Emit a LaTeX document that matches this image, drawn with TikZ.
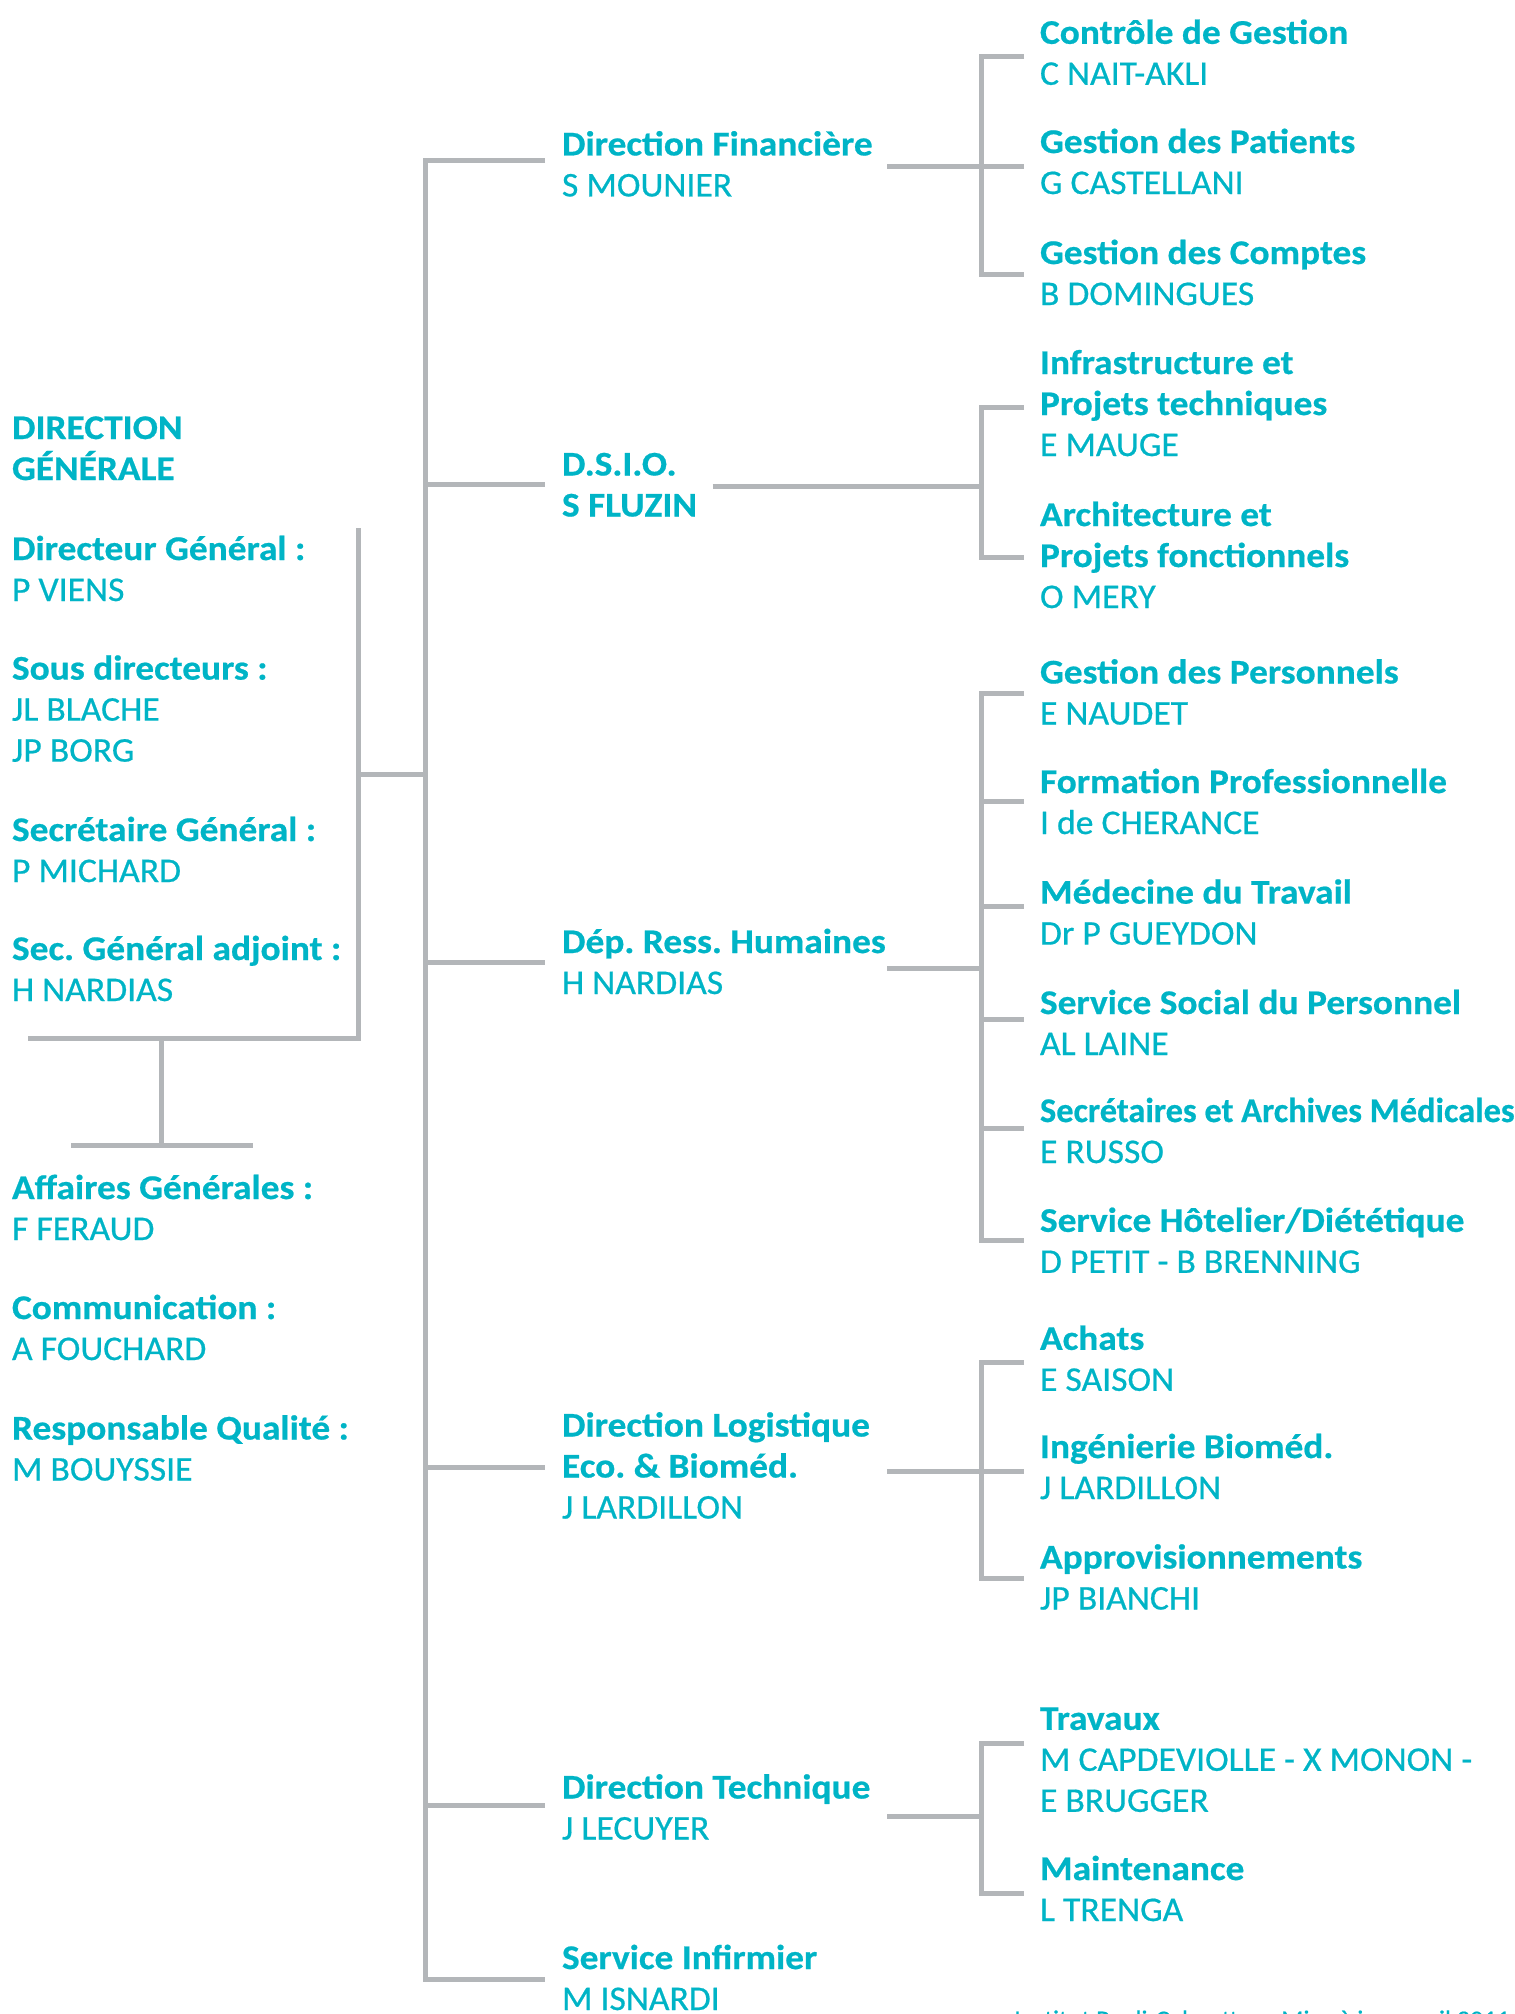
\documentclass[tikz,border=0pt]{standalone}
\usepackage{fontspec}
\setmainfont{Carlito}[UprightFeatures={FakeStretch=1.03,FakeBold=0.6},
                      BoldFeatures={FakeStretch=1.08,FakeBold=0.6}]
\definecolor{ipc}{HTML}{00B4C6}
\definecolor{lgray}{HTML}{B3B6B9}
\begin{document}
\frenchspacing
\begin{tikzpicture}[x=1pt,y=-1pt,
  lbl/.style={anchor=base west, inner sep=0pt, outer sep=0pt, align=left, text=ipc,
              font=\fontsize{34.6}{41}\selectfont},
  conn/.style={draw=lgray, line width=5pt, line join=miter, line cap=butt}]
\useasboundingbox (0,0) rectangle (1515,2014);
\clip (0,0) rectangle (1515,2014);

% (node anchors are at the baseline of each block's last line)
% ---------------- left column ----------------
\node[lbl] (dg)   at (12,480)    {\bfseries DIRECTION\\\bfseries GÉNÉRALE};
\node[lbl] (dgen) at (12,601)    {\bfseries Directeur Général :\\P VIENS};
\node[lbl] (sdir) at (12,761.6)  {\bfseries Sous directeurs :\\JL BLACHE\\JP BORG};
\node[lbl] (sg)   at (12,882)    {\bfseries Secrétaire Général :\\P MICHARD};
\node[lbl] (sga)  at (12,1001)   {\bfseries Sec. Général adjoint :\\H NARDIAS};
\node[lbl] (ag)   at (12,1240)   {\bfseries Affaires Générales :\\F FERAUD};
\node[lbl] (com)  at (12,1360)   {\bfseries Communication :\\A FOUCHARD};
\node[lbl] (rq)   at (12,1480.5) {\bfseries Responsable Qualité :\\M BOUYSSIE};

% ---------------- middle column ----------------
\node[lbl] (df)   at (562,196.4)  {\bfseries Direction Financière\\S MOUNIER};
\node[lbl] (dsio) at (562,516.5)  {\bfseries D.S.I.O.\\\bfseries S FLUZIN};
\node[lbl] (drh)  at (562,994)    {\bfseries Dép. Ress. Humaines\\H NARDIAS};
\node[lbl] (dlog) at (562,1518.5) {\bfseries Direction Logistique\\\bfseries Eco. \& Bioméd.\\J LARDILLON};
\node[lbl] (dtec) at (562,1839.5) {\bfseries Direction Technique\\J LECUYER};
\node[lbl] (sinf) at (562,2010)   {\bfseries Service Infirmier\\M ISNARDI};

% ---------------- right column ----------------
\node[lbl] (cg)   at (1040,84.8)   {\bfseries Contrôle de Gestion\\C NAIT-AKLI};
\node[lbl] (gp)   at (1040,194)    {\bfseries Gestion des Patients\\G CASTELLANI};
\node[lbl] (gc)   at (1040,305)    {\bfseries Gestion des Comptes\\B DOMINGUES};
\node[lbl] (ipt)  at (1040,456)    {\bfseries Infrastructure et\\\bfseries Projets techniques\\E MAUGE};
\node[lbl] (apf)  at (1040,608)    {\bfseries Architecture et\\\bfseries Projets fonctionnels\\O MERY};
\node[lbl] (gpe)  at (1040,724.5)  {\bfseries Gestion des Personnels\\E NAUDET};
\node[lbl] (fp)   at (1040,834)    {\bfseries Formation Professionnelle\\I de CHERANCE};
\node[lbl] (mt)   at (1040,944.6)  {\bfseries Médecine du Travail\\Dr P GUEYDON};
\node[lbl] (ssp)  at (1040,1055)   {\bfseries Service Social du Personnel\\AL LAINE};
\node[lbl] (sam)  at (1040,1163)   {\scalebox{0.92}[1]{\bfseries Secrétaires et Archives Médicales}\\E RUSSO};
\node[lbl] (shd)  at (1040,1272.8) {\bfseries Service Hôtelier/Diététique\\D PETIT - B BRENNING};
\node[lbl] (ach)  at (1040,1390.8) {\bfseries Achats\\E SAISON};
\node[lbl] (ib)   at (1040,1499)   {\bfseries Ingénierie Bioméd.\\J LARDILLON};
\node[lbl] (appr) at (1040,1609.5) {\bfseries Approvisionnements\\JP BIANCHI};
\node[lbl] (trav) at (1040,1811.8) {\bfseries Travaux\\M CAPDEVIOLLE - X MONON -\\E BRUGGER};
\node[lbl] (mnt)  at (1040,1921)   {\bfseries Maintenance\\L TRENGA};

% footer (cut by page edge)
\node[anchor=base west, inner sep=0pt, text=ipc, font=\fontsize{25.4}{30}\selectfont] (foot)
  at (1014,2028) {Institut Paoli-Calmettes - Mise à jour avril 2011};

% ---------------- coordinates ----------------
\coordinate (mTop) at (425,160.7);
\coordinate (mBot) at (425,1979);
\coordinate (lTop) at (358,528);
\coordinate (lCor) at (358,1038);
\coordinate (lEnd) at (27.6,1038);
\coordinate (lJ)   at (358,774);
\coordinate (tTop) at (161.4,1038);
\coordinate (tBot) at (161.4,1145.5);
\coordinate (tL)   at (71,1145.5);
\coordinate (tR)   at (253,1145.5);

% ---------------- connectors ----------------
% main trunk with first and last branch
\draw[conn] (545,160.7) -- (mTop) -- (mBot) -- (545,1979);
\draw[conn] (425,484.4) -- (545,484.4);
\draw[conn] (425,962.5) -- (545,962.5);
\draw[conn] (425,1467)  -- (545,1467);
\draw[conn] (425,1805)  -- (545,1805);
% general direction bracket
\draw[conn] (lTop) -- (lCor) -- (lEnd);
\draw[conn] (lJ) -- (425,774);
\draw[conn] (tTop) -- (tBot);
\draw[conn] (tL) -- (tR);

% finance
\draw[conn] (887,166.5) -- (981,166.5);
\draw[conn] (1024,56.7) -- (981,56.7) -- (981,274.5) -- (1024,274.5);
\draw[conn] (981,166.5) -- (1024,166.5);
% DSIO
\draw[conn] (712.5,486.6) -- (981,486.6);
\draw[conn] (1024,407) -- (981,407) -- (981,557) -- (1024,557);
% HR
\draw[conn] (887,968.3) -- (981,968.3);
\draw[conn] (1024,693.3) -- (981,693.3) -- (981,1240.6) -- (1024,1240.6);
\draw[conn] (981,801)    -- (1024,801);
\draw[conn] (981,906)    -- (1024,906);
\draw[conn] (981,1019.6) -- (1024,1019.6);
\draw[conn] (981,1128.6) -- (1024,1128.6);
% logistics
\draw[conn] (887,1471) -- (981,1471);
\draw[conn] (1024,1362) -- (981,1362) -- (981,1578) -- (1024,1578);
\draw[conn] (981,1471) -- (1024,1471);
% technical
\draw[conn] (887,1816) -- (981,1816);
\draw[conn] (1024,1743.5) -- (981,1743.5) -- (981,1893) -- (1024,1893);
\end{tikzpicture}
\end{document}
